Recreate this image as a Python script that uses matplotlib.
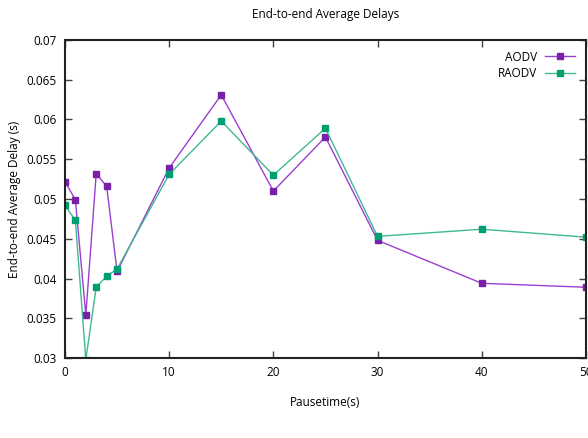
import matplotlib
matplotlib.use('Agg')
import matplotlib.pyplot as plt

plt.rcParams['font.family'] = ['Open Sans', 'DejaVu Sans']

# 数据
pausetime = [0, 1, 2, 3, 4, 5, 10, 15, 20, 25, 30, 40, 50]
aodv = [0.0522, 0.0499, 0.0354, 0.0532, 0.0516, 0.0409, 0.0539,
        0.0631, 0.0510, 0.0578, 0.0448, 0.0394, 0.0389]
raodv = [0.0492, 0.0473, 0.0298, 0.0389, 0.0403, 0.0412, 0.0531,
         0.0598, 0.0530, 0.0589, 0.0453, 0.0462, 0.0452]
yticks = [0.03, 0.035, 0.04, 0.045, 0.05, 0.055, 0.06, 0.065, 0.07]
ytick_labels = ['0.03', '0.035', '0.04', '0.045', '0.05', '0.055', '0.06', '0.065', '0.07']
xticks = [0, 10, 20, 30, 40, 50]

fig = plt.figure(figsize=(5.88, 4.38), dpi=100)
ax = fig.add_axes([0.1105, 0.1826, 0.886, 0.7261])

ax.plot(pausetime, aodv, color='#9b3fd0', lw=1.0, marker='s', ms=5,
        mfc='#7a1fa8', mec='#7a1fa8', label='AODV', clip_on=True)
ax.plot(pausetime, raodv, color='#3fb98f', lw=1.0, marker='s', ms=5,
        mfc='#009e73', mec='#009e73', label='RAODV', clip_on=True)

ax.set_xlim(0, 50)
ax.set_ylim(0.03, 0.07)
ax.set_xticks(xticks)
ax.set_yticks(yticks)
ax.set_yticklabels(ytick_labels)

ax.tick_params(direction='in', length=5, width=1.0, labelsize=8.5,
               top=True, right=True, pad=6, color='#404040')
for s in ax.spines.values():
    s.set_linewidth(1.5)
    s.set_color('#222222')

ax.set_title('End-to-end Average Delays', fontsize=8.5, pad=16)
ax.set_xlabel('Pausetime(s)', fontsize=8.5, labelpad=12)
ax.set_ylabel('End-to-end Average Delay (s)', fontsize=8.5, labelpad=4)

leg = ax.legend(loc='upper right', frameon=False, fontsize=8.5,
                markerfirst=False, handlelength=2.6, borderaxespad=0.5,
                labelspacing=0.3, handletextpad=0.6)
for t in leg.get_texts():
    t.set_ha('right')

fig.savefig('out.png', dpi=100)
